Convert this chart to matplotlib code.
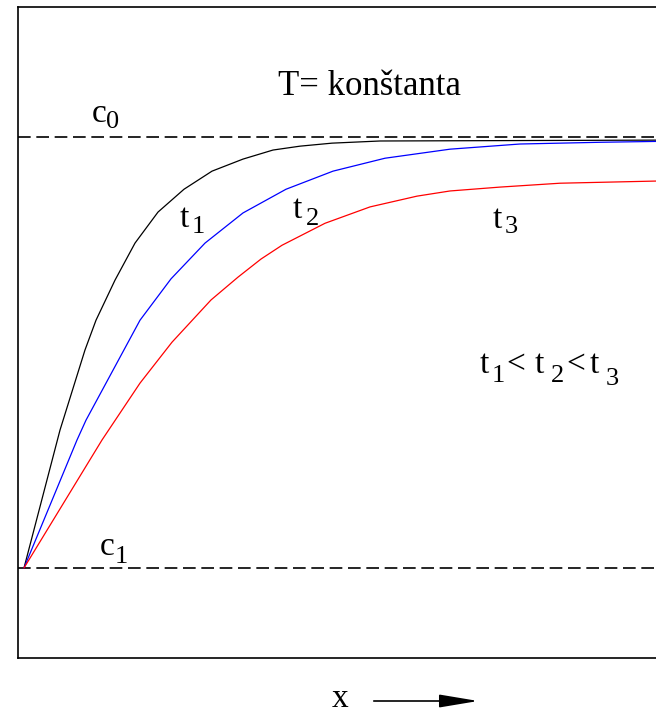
import numpy as np
import matplotlib
matplotlib.use('Agg')
import matplotlib.pyplot as plt

# concentration profiles c(x) at three times, c1 = 0, c0 = 1
x_t1 = [0, 0.36, 0.61, 0.72, 0.91, 1.11, 1.34, 1.60, 1.88, 2.19, 2.49, 2.76, 3.08, 3.56, 6.32]
c_t1 = [0, 0.320, 0.506, 0.575, 0.668, 0.754, 0.826, 0.879, 0.921, 0.949, 0.970, 0.979, 0.986, 0.991, 0.993]

x_t2 = [0, 0.53, 0.62, 0.89, 1.16, 1.47, 1.81, 2.19, 2.62, 3.09, 3.61, 4.26, 4.96, 5.76, 6.32]
c_t2 = [0, 0.297, 0.343, 0.459, 0.575, 0.671, 0.754, 0.824, 0.879, 0.921, 0.951, 0.972, 0.984, 0.988, 0.990]

x_t3 = [0, 0.78, 1.16, 1.48, 1.87, 2.14, 2.37, 2.58, 3.01, 3.46, 3.93, 4.26, 4.76, 5.36, 6.32]
c_t3 = [0, 0.297, 0.429, 0.524, 0.622, 0.675, 0.717, 0.749, 0.800, 0.838, 0.863, 0.875, 0.884, 0.893, 0.898]

c0 = 1.0
c1 = 0.0

W, H = 656, 715
plt.rcParams['font.family'] = ['Liberation Serif', 'DejaVu Serif']

fig = plt.figure(figsize=(W / 100, H / 100), dpi=100)
ax = fig.add_axes([18 / W, 57 / H, 660 / W, 651 / H])
ax.set_xlim(-0.06, 6.54)
ax.set_ylim(-0.209, 1.302)
ax.set_xticks([])
ax.set_yticks([])
for s in ax.spines.values():
    s.set_linewidth(1.2)

ax.axhline(c0, color='black', lw=1.2, dashes=(7.6, 3.4))
ax.axhline(c1, color='black', lw=1.2, dashes=(7.6, 3.4))

ax.plot(x_t1, c_t1, color='black', lw=0.9)
ax.plot(x_t2, c_t2, color='blue', lw=0.9)
ax.plot(x_t3, c_t3, color='red', lw=0.9)


def put(x, y, s, size=24, ha='left', va='baseline'):
    # place text by pixel position (left edge, baseline) on the figure
    fig.text(x / W, 1 - y / H, s, fontsize=size, ha=ha, va=va)


SUB = 19

put(370, 95, 'T= konštanta', 25, ha='center')

put(92, 122, 'c')
put(106, 128, '0', SUB)
put(100, 555, 'c')
put(115, 563, '1', SUB)

put(180, 227, 't')
put(192, 233, '1', SUB)
put(293, 218, 't')
put(306, 225, '2', SUB)
put(493, 228, 't')
put(505, 233, '3', SUB)

put(480, 373, 't')
put(492, 382, '1', SUB)
put(506, 373, '<')
put(535, 373, 't')
put(551, 382, '2', SUB)
put(566, 373, '<')
put(590, 373, 't')
put(606, 385, '3', SUB)

put(332, 714, 'x', va='bottom')
fig.add_artist(matplotlib.patches.FancyArrowPatch(
    (371 / W, 1 - 701 / H), (481 / W, 1 - 701 / H), transform=fig.transFigure,
    arrowstyle='-|>,head_length=1.2,head_width=0.2', mutation_scale=20,
    color='black', lw=1.2))

fig.savefig('out.png', dpi=100)
